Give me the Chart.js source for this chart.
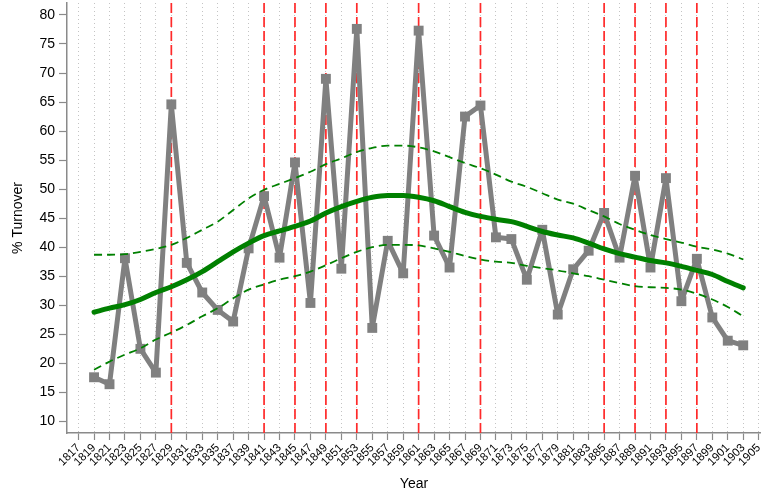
<!DOCTYPE html>
<html>
<head>
<meta charset="utf-8">
<title>% Turnover by Year</title>
<script src="https://cdn.jsdelivr.net/npm/chart.js@4/dist/chart.umd.min.js"></script>
<style>
  html, body { margin: 0; padding: 0; background: #ffffff; }
  #wrap { position: relative; width: 761px; height: 497px; }
</style>
</head>
<body>
<div id="wrap"><canvas id="chart" width="761" height="497"></canvas></div>
<script>
// Election years (every second year)
const years = [1819, 1821, 1823, 1825, 1827, 1829, 1831, 1833, 1835, 1837, 1839,
  1841, 1843, 1845, 1847, 1849, 1851, 1853, 1855, 1857, 1859, 1861, 1863, 1865,
  1867, 1869, 1871, 1873, 1875, 1877, 1879, 1881, 1883, 1885, 1887, 1889, 1891,
  1893, 1895, 1897, 1899, 1901, 1903];

// Observed turnover (%)
const turnover = [17.6, 16.4, 38.1, 22.5, 18.4, 64.6, 37.3, 32.2, 29.2, 27.2, 39.8,
  48.8, 38.2, 54.6, 30.4, 69.0, 36.3, 77.6, 26.1, 41.1, 35.5, 77.3, 42.0, 36.5,
  62.5, 64.4, 41.7, 41.4, 34.4, 43.0, 28.4, 36.2, 39.4, 45.9, 38.2, 52.3, 36.5,
  51.9, 30.7, 38.0, 27.9, 23.9, 23.1];

// Smoothed trend and its upper / lower band
const trend = [28.8, 29.5, 30.1, 31.0, 32.2, 33.2, 34.4, 35.8, 37.5, 39.2, 40.7,
  42.0, 42.8, 43.6, 44.5, 45.9, 47.0, 47.9, 48.6, 48.9, 48.9, 48.6, 48.0, 47.0,
  46.0, 45.3, 44.8, 44.4, 43.6, 42.7, 42.1, 41.6, 40.7, 39.7, 38.9, 38.3, 37.7,
  37.3, 36.7, 36.0, 35.3, 34.1, 33.0];

const trendUpper = [38.7, 38.7, 38.8, 39.2, 39.7, 40.4, 41.6, 43.0, 44.4, 46.4, 48.4,
  49.9, 50.9, 51.9, 53.0, 54.3, 55.3, 56.4, 57.1, 57.5, 57.5, 57.2, 56.5, 55.5,
  54.5, 53.6, 52.5, 51.3, 50.4, 49.3, 48.2, 47.5, 46.4, 45.3, 44.0, 43.0, 42.1,
  41.4, 40.8, 40.1, 39.6, 38.9, 37.9];

const trendLower = [18.9, 20.3, 21.5, 22.6, 24.1, 25.3, 26.6, 28.1, 29.5, 31.2, 32.7,
  33.6, 34.4, 35.0, 35.8, 36.9, 38.1, 39.2, 40.0, 40.4, 40.4, 40.3, 39.8, 39.2,
  38.5, 37.9, 37.5, 37.3, 36.8, 36.4, 36.0, 35.5, 35.0, 34.4, 33.8, 33.3, 33.1,
  33.0, 32.7, 32.0, 31.0, 29.7, 28.1];

// Years marked with a vertical reference line
const markedYears = [1829, 1841, 1845, 1849, 1853, 1861, 1869, 1885, 1889, 1893, 1897];

// Axis tick labels
const xTicks = [1817, 1819, 1821, 1823, 1825, 1827, 1829, 1831, 1833, 1835, 1837,
  1839, 1841, 1843, 1845, 1847, 1849, 1851, 1853, 1855, 1857, 1859, 1861, 1863,
  1865, 1867, 1869, 1871, 1873, 1875, 1877, 1879, 1881, 1883, 1885, 1887, 1889,
  1891, 1893, 1895, 1897, 1899, 1901, 1903, 1905];
const yTicks = [10, 15, 20, 25, 30, 35, 40, 45, 50, 55, 60, 65, 70, 75, 80];

const pts = (vals) => years.map((yr, i) => ({ x: yr, y: vals[i] }));

const FONT = "'Liberation Sans', Arial, Helvetica, sans-serif";
const AXIS_GREY = '#8a8a8a';

// Axes reserve no extra room around the plot area beyond their own size
const noExtraPadding = (scale) => {
  scale.paddingLeft = scale.paddingRight = scale.paddingTop = scale.paddingBottom = 0;
  scale.getPadding = () => ({ left: 0, top: 0, right: 0, bottom: 0 });
};

// Red dashed vertical lines behind the series
const markedLines = {
  id: 'markedLines',
  beforeDatasetsDraw(chart) {
    const { ctx, chartArea, scales } = chart;
    ctx.save();
    ctx.strokeStyle = '#ff2a2a';
    ctx.lineWidth = 1.7;
    ctx.setLineDash([10, 4]);
    markedYears.forEach((yr) => {
      const px = scales.x.getPixelForValue(yr);
      ctx.beginPath();
      ctx.moveTo(px, chartArea.top);
      ctx.lineTo(px, chartArea.bottom);
      ctx.stroke();
    });
    ctx.restore();
  }
};

new Chart(document.getElementById('chart'), {
  type: 'line',
  data: {
    datasets: [
      {
        label: 'Turnover',
        data: pts(turnover),
        borderColor: '#808080',
        backgroundColor: '#808080',
        borderWidth: 5,
        borderJoinStyle: 'round',
        pointStyle: 'rect',
        pointRadius: 7,
        pointBorderWidth: 0,
        tension: 0,
        order: 3
      },
      {
        label: 'Upper',
        data: pts(trendUpper),
        borderColor: '#008000',
        borderWidth: 1.8,
        borderDash: [8, 5],
        pointRadius: 0,
        cubicInterpolationMode: 'monotone',
        order: 2
      },
      {
        label: 'Lower',
        data: pts(trendLower),
        borderColor: '#008000',
        borderWidth: 1.8,
        borderDash: [8, 5],
        pointRadius: 0,
        cubicInterpolationMode: 'monotone',
        order: 2
      },
      {
        label: 'Trend',
        data: pts(trend),
        borderColor: '#008000',
        borderWidth: 5,
        pointRadius: 0,
        cubicInterpolationMode: 'monotone',
        borderCapStyle: 'round',
        order: 1
      }
    ]
  },
  options: {
    responsive: false,
    animation: false,
    devicePixelRatio: 1,
    layout: { autoPadding: false, padding: { top: 3, right: 0, left: 0, bottom: 0 } },
    plugins: {
      legend: { display: false },
      tooltip: { enabled: false }
    },
    scales: {
      x: {
        type: 'linear',
        min: 1815.5,
        max: 1905.3,
        afterBuildTicks: (scale) => { scale.ticks = xTicks.map((v) => ({ value: v })); },
        afterFit: (scale) => { scale.height = 64; noExtraPadding(scale); },
        ticks: {
          autoSkip: false,
          minRotation: 45,
          maxRotation: 45,
          padding: 1,
          color: '#000000',
          font: { family: FONT, size: 11.5 },
          callback: (v) => String(v)
        },
        grid: {
          color: '#c4c4c4',
          lineWidth: 1,
          drawTicks: true,
          tickLength: 7,
          tickColor: AXIS_GREY,
          tickWidth: 1.2,
          tickBorderDash: []
        },
        border: { display: true, color: AXIS_GREY, width: 1.5, dash: [1, 3] },
        title: {
          display: true,
          text: 'Year',
          color: '#000000',
          font: { family: FONT, size: 14 },
          padding: { top: 0, bottom: 4 }
        }
      },
      y: {
        type: 'linear',
        min: 8.0,
        max: 82.06,
        afterBuildTicks: (scale) => { scale.ticks = yTicks.map((v) => ({ value: v })); },
        afterFit: (scale) => { scale.width = 67; noExtraPadding(scale); },
        ticks: {
          padding: 4,
          color: '#000000',
          font: { family: FONT, size: 14 },
          callback: (v) => String(v)
        },
        grid: {
          drawOnChartArea: false,
          drawTicks: true,
          tickLength: 8,
          tickColor: AXIS_GREY,
          tickWidth: 1.2
        },
        border: { display: true, color: AXIS_GREY, width: 1.5 },
        title: {
          display: true,
          text: '% Turnover',
          color: '#000000',
          font: { family: FONT, size: 14 },
          padding: { top: 9.5, bottom: 0 }
        }
      }
    }
  },
  plugins: [markedLines]
});
</script>
</body>
</html>
